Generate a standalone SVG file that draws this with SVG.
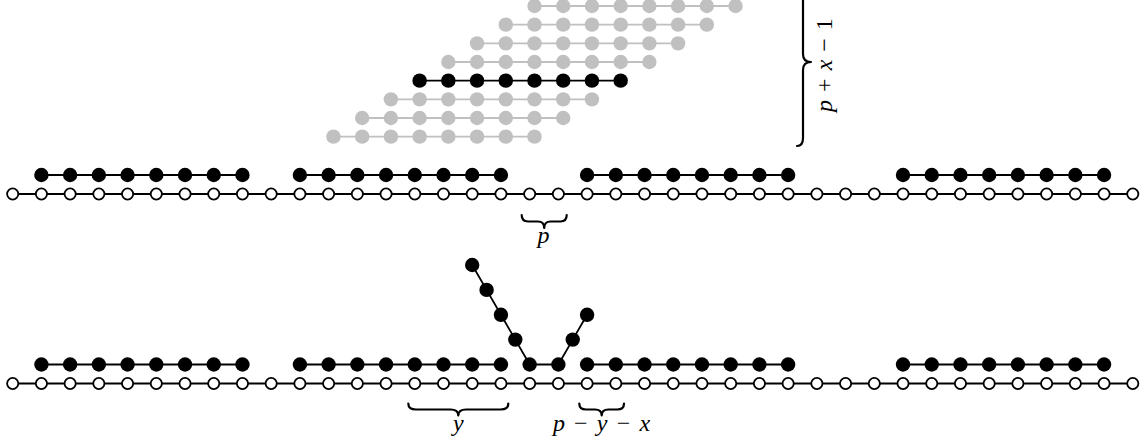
<svg xmlns="http://www.w3.org/2000/svg" width="1140" height="444" viewBox="0 0 1140 444">
<style>
.wl{stroke:#000;stroke-width:1.8;fill:none}
.gl{stroke:#c0c0c0;stroke-width:1.8;fill:none}
.w{fill:#fff;stroke:#000;stroke-width:1.8}
.b{fill:#000}
.g{fill:#c0c0c0}
.br{fill:none;stroke:#000;stroke-width:2.2;stroke-linejoin:round;stroke-linecap:round}
.t{font-family:"Liberation Serif","DejaVu Serif",serif;font-size:24px;font-style:italic;fill:#000}
.u{font-style:normal}
</style>
<defs>
<circle id="wc" r="5.6" class="w"/>
<circle id="bc" r="7.2" class="b"/>
<circle id="gc" r="7.2" class="g"/>
</defs>
<g id="connectors">
<line class="wl" x1="12.7" y1="194" x2="1132.78" y2="194"/>
<line class="wl" x1="12.7" y1="383.5" x2="1132.78" y2="383.5"/>
<line class="wl" x1="41.42" y1="175" x2="242.46" y2="175"/>
<line class="wl" x1="299.9" y1="175" x2="500.94" y2="175"/>
<line class="wl" x1="587.1" y1="175" x2="788.14" y2="175"/>
<line class="wl" x1="903.02" y1="175" x2="1104.06" y2="175"/>
<line class="wl" x1="41.42" y1="364.5" x2="242.46" y2="364.5"/>
<line class="wl" x1="299.9" y1="364.5" x2="500.94" y2="364.5"/>
<polyline class="wl" points="472.2,265 486.6,289.9 500.94,314.8 515.3,339.6 529.66,364.5 558.38,364.5 572.74,339.6 587.1,314.8"/>
<line class="wl" x1="587.1" y1="364.5" x2="788.14" y2="364.5"/>
<line class="wl" x1="903.02" y1="364.5" x2="1104.06" y2="364.5"/>
<line class="gl" x1="534.5" y1="6" x2="735.54" y2="6"/>
<line class="gl" x1="505.78" y1="24.67" x2="706.82" y2="24.67"/>
<line class="gl" x1="477.06" y1="43.33" x2="678.1" y2="43.33"/>
<line class="gl" x1="448.34" y1="62" x2="649.38" y2="62"/>
<line class="wl" x1="419.62" y1="80.67" x2="620.66" y2="80.67"/>
<line class="gl" x1="390.9" y1="99.33" x2="591.94" y2="99.33"/>
<line class="gl" x1="362.18" y1="118" x2="563.22" y2="118"/>
<line class="gl" x1="333.46" y1="136.67" x2="534.5" y2="136.67"/>
</g>
<g id="stack">
<g id="row0"><use href="#gc" x="534.5" y="6"/><use href="#gc" x="563.22" y="6"/><use href="#gc" x="591.94" y="6"/><use href="#gc" x="620.66" y="6"/><use href="#gc" x="649.38" y="6"/><use href="#gc" x="678.1" y="6"/><use href="#gc" x="706.82" y="6"/><use href="#gc" x="735.54" y="6"/></g>
<g id="row1"><use href="#gc" x="505.78" y="24.67"/><use href="#gc" x="534.5" y="24.67"/><use href="#gc" x="563.22" y="24.67"/><use href="#gc" x="591.94" y="24.67"/><use href="#gc" x="620.66" y="24.67"/><use href="#gc" x="649.38" y="24.67"/><use href="#gc" x="678.1" y="24.67"/><use href="#gc" x="706.82" y="24.67"/></g>
<g id="row2"><use href="#gc" x="477.06" y="43.33"/><use href="#gc" x="505.78" y="43.33"/><use href="#gc" x="534.5" y="43.33"/><use href="#gc" x="563.22" y="43.33"/><use href="#gc" x="591.94" y="43.33"/><use href="#gc" x="620.66" y="43.33"/><use href="#gc" x="649.38" y="43.33"/><use href="#gc" x="678.1" y="43.33"/></g>
<g id="row3"><use href="#gc" x="448.34" y="62"/><use href="#gc" x="477.06" y="62"/><use href="#gc" x="505.78" y="62"/><use href="#gc" x="534.5" y="62"/><use href="#gc" x="563.22" y="62"/><use href="#gc" x="591.94" y="62"/><use href="#gc" x="620.66" y="62"/><use href="#gc" x="649.38" y="62"/></g>
<g id="row4"><use href="#bc" x="419.62" y="80.67"/><use href="#bc" x="448.34" y="80.67"/><use href="#bc" x="477.06" y="80.67"/><use href="#bc" x="505.78" y="80.67"/><use href="#bc" x="534.5" y="80.67"/><use href="#bc" x="563.22" y="80.67"/><use href="#bc" x="591.94" y="80.67"/><use href="#bc" x="620.66" y="80.67"/></g>
<g id="row5"><use href="#gc" x="390.9" y="99.33"/><use href="#gc" x="419.62" y="99.33"/><use href="#gc" x="448.34" y="99.33"/><use href="#gc" x="477.06" y="99.33"/><use href="#gc" x="505.78" y="99.33"/><use href="#gc" x="534.5" y="99.33"/><use href="#gc" x="563.22" y="99.33"/><use href="#gc" x="591.94" y="99.33"/></g>
<g id="row6"><use href="#gc" x="362.18" y="118"/><use href="#gc" x="390.9" y="118"/><use href="#gc" x="419.62" y="118"/><use href="#gc" x="448.34" y="118"/><use href="#gc" x="477.06" y="118"/><use href="#gc" x="505.78" y="118"/><use href="#gc" x="534.5" y="118"/><use href="#gc" x="563.22" y="118"/></g>
<g id="row7"><use href="#gc" x="333.46" y="136.67"/><use href="#gc" x="362.18" y="136.67"/><use href="#gc" x="390.9" y="136.67"/><use href="#gc" x="419.62" y="136.67"/><use href="#gc" x="448.34" y="136.67"/><use href="#gc" x="477.06" y="136.67"/><use href="#gc" x="505.78" y="136.67"/><use href="#gc" x="534.5" y="136.67"/></g>
</g>
<g id="top-white">
<use href="#wc" x="12.7" y="194"/><use href="#wc" x="41.42" y="194"/><use href="#wc" x="70.14" y="194"/><use href="#wc" x="98.86" y="194"/><use href="#wc" x="127.58" y="194"/><use href="#wc" x="156.3" y="194"/><use href="#wc" x="185.02" y="194"/><use href="#wc" x="213.74" y="194"/><use href="#wc" x="242.46" y="194"/><use href="#wc" x="271.18" y="194"/>
<use href="#wc" x="299.9" y="194"/><use href="#wc" x="328.62" y="194"/><use href="#wc" x="357.34" y="194"/><use href="#wc" x="386.06" y="194"/><use href="#wc" x="414.78" y="194"/><use href="#wc" x="443.5" y="194"/><use href="#wc" x="472.22" y="194"/><use href="#wc" x="500.94" y="194"/><use href="#wc" x="529.66" y="194"/><use href="#wc" x="558.38" y="194"/>
<use href="#wc" x="587.1" y="194"/><use href="#wc" x="615.82" y="194"/><use href="#wc" x="644.54" y="194"/><use href="#wc" x="673.26" y="194"/><use href="#wc" x="701.98" y="194"/><use href="#wc" x="730.7" y="194"/><use href="#wc" x="759.42" y="194"/><use href="#wc" x="788.14" y="194"/><use href="#wc" x="816.86" y="194"/><use href="#wc" x="845.58" y="194"/>
<use href="#wc" x="874.3" y="194"/><use href="#wc" x="903.02" y="194"/><use href="#wc" x="931.74" y="194"/><use href="#wc" x="960.46" y="194"/><use href="#wc" x="989.18" y="194"/><use href="#wc" x="1017.9" y="194"/><use href="#wc" x="1046.62" y="194"/><use href="#wc" x="1075.34" y="194"/><use href="#wc" x="1104.06" y="194"/><use href="#wc" x="1132.78" y="194"/>
</g>
<g id="top-black">
<use href="#bc" x="41.42" y="175"/><use href="#bc" x="70.14" y="175"/><use href="#bc" x="98.86" y="175"/><use href="#bc" x="127.58" y="175"/><use href="#bc" x="156.3" y="175"/><use href="#bc" x="185.02" y="175"/><use href="#bc" x="213.74" y="175"/><use href="#bc" x="242.46" y="175"/>
<use href="#bc" x="299.9" y="175"/><use href="#bc" x="328.62" y="175"/><use href="#bc" x="357.34" y="175"/><use href="#bc" x="386.06" y="175"/><use href="#bc" x="414.78" y="175"/><use href="#bc" x="443.5" y="175"/><use href="#bc" x="472.22" y="175"/><use href="#bc" x="500.94" y="175"/>
<use href="#bc" x="587.1" y="175"/><use href="#bc" x="615.82" y="175"/><use href="#bc" x="644.54" y="175"/><use href="#bc" x="673.26" y="175"/><use href="#bc" x="701.98" y="175"/><use href="#bc" x="730.7" y="175"/><use href="#bc" x="759.42" y="175"/><use href="#bc" x="788.14" y="175"/>
<use href="#bc" x="903.02" y="175"/><use href="#bc" x="931.74" y="175"/><use href="#bc" x="960.46" y="175"/><use href="#bc" x="989.18" y="175"/><use href="#bc" x="1017.9" y="175"/><use href="#bc" x="1046.62" y="175"/><use href="#bc" x="1075.34" y="175"/><use href="#bc" x="1104.06" y="175"/>
</g>
<g id="bottom-white">
<use href="#wc" x="12.7" y="383.5"/><use href="#wc" x="41.42" y="383.5"/><use href="#wc" x="70.14" y="383.5"/><use href="#wc" x="98.86" y="383.5"/><use href="#wc" x="127.58" y="383.5"/><use href="#wc" x="156.3" y="383.5"/><use href="#wc" x="185.02" y="383.5"/><use href="#wc" x="213.74" y="383.5"/><use href="#wc" x="242.46" y="383.5"/><use href="#wc" x="271.18" y="383.5"/>
<use href="#wc" x="299.9" y="383.5"/><use href="#wc" x="328.62" y="383.5"/><use href="#wc" x="357.34" y="383.5"/><use href="#wc" x="386.06" y="383.5"/><use href="#wc" x="414.78" y="383.5"/><use href="#wc" x="443.5" y="383.5"/><use href="#wc" x="472.22" y="383.5"/><use href="#wc" x="500.94" y="383.5"/><use href="#wc" x="529.66" y="383.5"/><use href="#wc" x="558.38" y="383.5"/>
<use href="#wc" x="587.1" y="383.5"/><use href="#wc" x="615.82" y="383.5"/><use href="#wc" x="644.54" y="383.5"/><use href="#wc" x="673.26" y="383.5"/><use href="#wc" x="701.98" y="383.5"/><use href="#wc" x="730.7" y="383.5"/><use href="#wc" x="759.42" y="383.5"/><use href="#wc" x="788.14" y="383.5"/><use href="#wc" x="816.86" y="383.5"/><use href="#wc" x="845.58" y="383.5"/>
<use href="#wc" x="874.3" y="383.5"/><use href="#wc" x="903.02" y="383.5"/><use href="#wc" x="931.74" y="383.5"/><use href="#wc" x="960.46" y="383.5"/><use href="#wc" x="989.18" y="383.5"/><use href="#wc" x="1017.9" y="383.5"/><use href="#wc" x="1046.62" y="383.5"/><use href="#wc" x="1075.34" y="383.5"/><use href="#wc" x="1104.06" y="383.5"/><use href="#wc" x="1132.78" y="383.5"/>
</g>
<g id="bottom-black">
<use href="#bc" x="41.42" y="364.5"/><use href="#bc" x="70.14" y="364.5"/><use href="#bc" x="98.86" y="364.5"/><use href="#bc" x="127.58" y="364.5"/><use href="#bc" x="156.3" y="364.5"/><use href="#bc" x="185.02" y="364.5"/><use href="#bc" x="213.74" y="364.5"/><use href="#bc" x="242.46" y="364.5"/>
<use href="#bc" x="299.9" y="364.5"/><use href="#bc" x="328.62" y="364.5"/><use href="#bc" x="357.34" y="364.5"/><use href="#bc" x="386.06" y="364.5"/><use href="#bc" x="414.78" y="364.5"/><use href="#bc" x="443.5" y="364.5"/><use href="#bc" x="472.22" y="364.5"/><use href="#bc" x="500.94" y="364.5"/>
<use href="#bc" x="472.2" y="265"/><use href="#bc" x="486.6" y="289.9"/><use href="#bc" x="500.94" y="314.8"/><use href="#bc" x="515.3" y="339.6"/><use href="#bc" x="529.66" y="364.5"/><use href="#bc" x="558.38" y="364.5"/><use href="#bc" x="572.74" y="339.6"/><use href="#bc" x="587.1" y="314.8"/>
<use href="#bc" x="587.1" y="364.5"/><use href="#bc" x="615.82" y="364.5"/><use href="#bc" x="644.54" y="364.5"/><use href="#bc" x="673.26" y="364.5"/><use href="#bc" x="701.98" y="364.5"/><use href="#bc" x="730.7" y="364.5"/><use href="#bc" x="759.42" y="364.5"/><use href="#bc" x="788.14" y="364.5"/>
<use href="#bc" x="903.02" y="364.5"/><use href="#bc" x="931.74" y="364.5"/><use href="#bc" x="960.46" y="364.5"/><use href="#bc" x="989.18" y="364.5"/><use href="#bc" x="1017.9" y="364.5"/><use href="#bc" x="1046.62" y="364.5"/><use href="#bc" x="1075.34" y="364.5"/><use href="#bc" x="1104.06" y="364.5"/>
</g>
<g id="brace-px1">
<path class="br" d="M797,-22 Q803,-22 803,-14 L803,54 Q803,62 811,62 Q803,62 803,70 L803,138 Q803,146 797,146"/>
<text class="t" transform="translate(832,65) rotate(-90)" text-anchor="middle" xml:space="preserve" word-spacing="2">p <tspan class="u">+</tspan> x <tspan class="u">−</tspan> <tspan class="u">1</tspan></text>
</g>
<g id="brace-p">
<path class="br" d="M521.7,215 Q521.7,221.5 528,221.5 L538,221.5 Q544.2,221.5 544.2,228 Q544.2,221.5 550.5,221.5 L560.5,221.5 Q566.7,221.5 566.7,215"/>
<text class="t" x="543.5" y="242.5" text-anchor="middle">p</text>
</g>
<g id="brace-y">
<path class="br" d="M408.3,403.5 Q408.3,409.5 416,409.5 L450.5,409.5 Q458.3,409.5 458.3,415.5 Q458.3,409.5 466,409.5 L500.5,409.5 Q508.3,409.5 508.3,403.5"/>
<text class="t" x="458.3" y="431" text-anchor="middle">y</text>
</g>
<g id="brace-pyx">
<path class="br" d="M579.3,403.5 Q579.3,409.5 586,409.5 L595,409.5 Q601.7,409.5 601.7,415.5 Q601.7,409.5 608.4,409.5 L617.3,409.5 Q624,409.5 624,403.5"/>
<text class="t" x="601.5" y="431" text-anchor="middle" xml:space="preserve" word-spacing="3.2">p <tspan class="u">−</tspan> y <tspan class="u">−</tspan> x</text>
</g>
</svg>
